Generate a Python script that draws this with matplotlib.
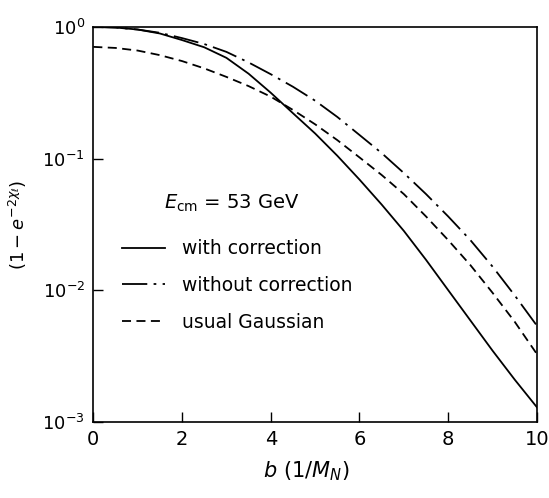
import matplotlib
matplotlib.use("Agg")
import matplotlib.pyplot as plt
from matplotlib.ticker import LogLocator, NullLocator, FixedLocator

# impact parameter b (1/M_N)
b = [0, 0.5, 1, 1.5, 2, 2.5, 3, 3.5, 4, 4.5, 5, 5.5, 6, 6.5, 7, 7.5, 8, 8.5,
     9, 9.5, 10]

# (1 - exp(-2 chi))
with_corr = [1.0, 0.989, 0.955, 0.891, 0.794, 0.700, 0.582, 0.441, 0.316,
             0.221, 0.155, 0.105, 0.0692, 0.0447, 0.0282, 0.0170, 0.0100,
             0.00589, 0.00347, 0.00209, 0.00129]
without_corr = [1.0, 0.989, 0.955, 0.902, 0.822, 0.741, 0.646, 0.537, 0.437,
                0.351, 0.275, 0.207, 0.151, 0.110, 0.0776, 0.0537, 0.0363,
                0.0240, 0.0151, 0.00912, 0.00537]
gaussian = [0.705, 0.692, 0.661, 0.610, 0.550, 0.484, 0.417, 0.355, 0.295,
            0.234, 0.182, 0.138, 0.102, 0.0750, 0.0537, 0.0363, 0.0240,
            0.0155, 0.00955, 0.00575, 0.00327]

labels = ["with correction", "without correction", "usual Gaussian"]

fig = plt.figure(figsize=(5.49, 4.98), dpi=100)
ax = fig.add_axes([0.170, 0.153, 0.808, 0.793])

ax.plot(b, with_corr, color="black", lw=1.3, ls="-", label=labels[0])
ax.plot(b, without_corr, color="black", lw=1.3, ls=(0, (14, 3.5, 1.5, 3.5)), label=labels[1])
ax.plot(b, gaussian, color="black", lw=1.3, ls=(0, (5, 3)), label=labels[2])

ax.set_yscale("log")
ax.set_xlim(0, 10)
ax.set_ylim(1e-3, 1)
ax.xaxis.set_major_locator(FixedLocator([0, 2, 4, 6, 8, 10]))
ax.yaxis.set_major_locator(LogLocator(base=10, numticks=5))
ax.yaxis.set_minor_locator(NullLocator())
ax.tick_params(direction="in", length=7, width=1, labelsize=14, pad=6)
ax.tick_params(axis="y", labelsize=13)

for s in ax.spines.values():
    s.set_linewidth(1.2)

ax.set_xlabel(r"$b\ (1/M_N)$", fontsize=15, labelpad=11)
ax.xaxis.set_label_coords(0.48, -0.095)
ax.set_ylabel(r"$(1-e^{-2\chi_\ell})$", fontsize=13, labelpad=10)

ax.text(0.16, 0.525, r"$E_{\rm cm}$ = 53 GeV", transform=ax.transAxes,
        fontsize=14, ha="left", va="bottom")

ax.legend(loc="upper left", bbox_to_anchor=(0.027, 0.505), frameon=False,
          fontsize=13.5, handlelength=2.3, handletextpad=0.9, labelspacing=0.95)

plt.savefig("out.png", dpi=100)
